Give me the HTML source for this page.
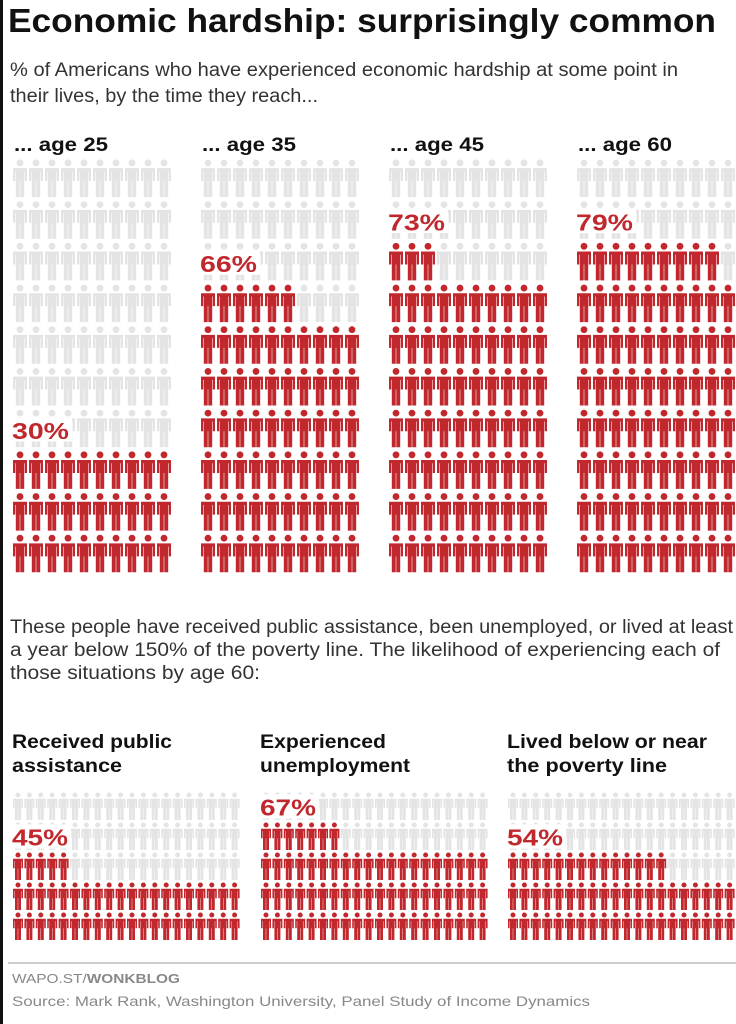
<!DOCTYPE html>
<html><head><meta charset="utf-8">
<style>
body{margin:0;background:#fff;width:736px;height:1024px;overflow:hidden;font-family:"Liberation Sans",sans-serif;}
svg{display:block}
</style></head>
<body>
<svg id="chart" width="736" height="1024" viewBox="0 0 736 1024" xmlns="http://www.w3.org/2000/svg">
<rect x="0" y="0" width="3" height="1024" fill="#111"/>
<text x="8" y="32" font-size="33" font-weight="bold" fill="#111" textLength="708" lengthAdjust="spacingAndGlyphs">Economic hardship: surprisingly common</text>
<text x="10" y="76" font-size="19" fill="#333" textLength="668" lengthAdjust="spacingAndGlyphs">% of Americans who have experienced economic hardship at some point in</text>
<text x="10" y="102" font-size="19" fill="#333" textLength="308" lengthAdjust="spacingAndGlyphs">their lives, by the time they reach...</text>
<g id="top"></g>
<text x="10" y="633" font-size="19" fill="#333" textLength="723" lengthAdjust="spacingAndGlyphs">These people have received public assistance, been unemployed, or lived at least</text>
<text x="10" y="656" font-size="19" fill="#333" textLength="710" lengthAdjust="spacingAndGlyphs">a year below 150% of the poverty line. The likelihood of experiencing each of</text>
<text x="10" y="679" font-size="19" fill="#333" textLength="250" lengthAdjust="spacingAndGlyphs">those situations by age 60:</text>
<g id="bottom"></g>
<line x1="8" y1="963" x2="736" y2="963" stroke="#999" stroke-width="1"/>
<text x="12" y="983" font-size="13" fill="#888" textLength="168" lengthAdjust="spacingAndGlyphs">WAPO.ST/<tspan font-weight="bold">WONKBLOG</tspan></text>
<text x="12" y="1006" font-size="14" fill="#888" textLength="578" lengthAdjust="spacingAndGlyphs">Source: Mark Rank, Washington University, Panel Study of Income Dynamics</text>
</svg>
<script>
const topLabels = ["... age 25","... age 35","... age 45","... age 60"];
const topValues = [30,66,73,79];
const bottomLabels1 = ["Received public","Experienced","Lived below or near"];
const bottomLabels2 = ["assistance","unemployment","the poverty line"];
const bottomValues = [45,67,54];

const NS="http://www.w3.org/2000/svg";
const RED="#c0282d", GRAY="#e4e4e4";
function iconPath(x,y,w,h){
  const r=h*0.09, cx=x+w/2, cy=y+r+0.5;
  const t=y+h*0.24, m=y+h*0.58;
  let d=`M${cx-r},${cy}a${r},${r} 0 1,0 ${2*r},0a${r},${r} 0 1,0 ${-2*r},0Z`;
  d+=`M${x},${t}h${w}v${m-t}h${-w*0.16}v${-(m-t)*0.75}h${-w*0.04}v${(y+h)-(t+(m-t)*0.25)}h${-w*0.28}v${-(h*0.42)}h${-w*0.04}v${h*0.42}h${-w*0.28}v${-((y+h)-(t+(m-t)*0.25))}h${-w*0.04}v${(m-t)*0.75}h${-w*0.16}Z`;
  return d;
}
function grid(parent,name,x0,y0,cols,rows,px,py,w,h,value,labelSize,labelW){
  const g=document.createElementNS(NS,"g");
  
  
  parent.appendChild(g);
  let redD="",grayD="";
  const full=Math.floor(value/cols), part=value%cols;
  for(let r=0;r<rows;r++){
    const fromBottom=rows-1-r;
    for(let c=0;c<cols;c++){
      const red = fromBottom<full || (fromBottom===full && c<part);
      const d=iconPath(x0+c*px,y0+r*py,w,h);
      if(red) redD+=d; else grayD+=d;
    }
  }
  const p1=document.createElementNS(NS,"path");p1.setAttribute("d",grayD);p1.setAttribute("fill",GRAY);
  
  
  g.appendChild(p1);
  const p2=document.createElementNS(NS,"path");p2.setAttribute("d",redD);p2.setAttribute("fill",RED);
  
  
  g.appendChild(p2);
  const labelRowFromBottom = part>0 ? full+1 : full;
  const rowTop = y0+(rows-1-labelRowFromBottom)*py;
  const bg=document.createElementNS(NS,"rect");
  bg.setAttribute("x",x0-2);bg.setAttribute("y",rowTop+py*0.5-labelSize*0.55);
  bg.setAttribute("width",labelW+4);bg.setAttribute("height",labelSize*1.05);bg.setAttribute("fill","#fff");
  
  
  g.appendChild(bg);
  const t=document.createElementNS(NS,"text");
  t.setAttribute("x",x0-1);t.setAttribute("y",rowTop+py*0.5+labelSize*0.38);
  t.setAttribute("font-size",labelSize);t.setAttribute("font-weight","bold");t.setAttribute("fill",RED);
  t.setAttribute("textLength",labelW);t.setAttribute("lengthAdjust","spacingAndGlyphs");
  t.textContent=value+"%";
  
  
  g.appendChild(t);
}
function header(parent,x,y,txt,len){
  const t=document.createElementNS(NS,"text");
  t.setAttribute("x",x);t.setAttribute("y",y);
  t.setAttribute("font-size",19);t.setAttribute("font-weight","bold");t.setAttribute("fill","#111");
  t.setAttribute("textLength",len);t.setAttribute("lengthAdjust","spacingAndGlyphs");
  t.textContent=txt;
  
  
  parent.appendChild(t);
}
const topG=document.getElementById("top");
const topX=[13,201,389,577];
topLabels.forEach((lab,i)=>{
  header(topG,topX[i]+1,151,lab,94);
  grid(topG,"age-panel-"+(i+1),topX[i],159,10,10,16,41.7,14,38,topValues[i],23,57);
});
const botG=document.getElementById("bottom");
const botX=[13,261,508];
const len1=[160,126,200], len2=[110,150,160];
bottomValues.forEach((v,i)=>{
  header(botG,botX[i]-1,748,bottomLabels1[i],len1[i]);
  header(botG,botX[i]-1,772,bottomLabels2[i],len2[i]);
  grid(botG,"situation-panel-"+(i+1),botX[i],792,20,5,11.4,30,10,28,v,23,56);
});
</script>
</body></html>
